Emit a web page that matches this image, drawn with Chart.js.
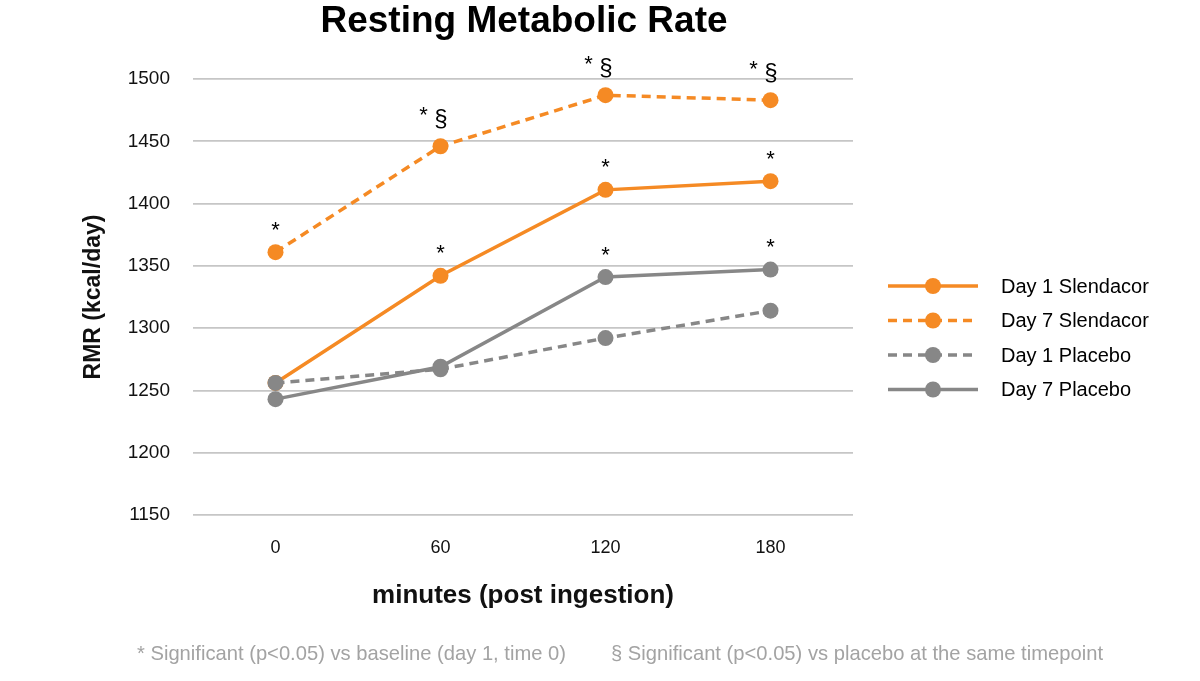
<!DOCTYPE html>
<html>
<head>
<meta charset="utf-8">
<script src="https://cdn.jsdelivr.net/npm/chart.js@4.4.1/dist/chart.umd.min.js"></script>
<style>
  html, body { margin: 0; padding: 0; background: #ffffff; }
  #wrap { width: 1200px; height: 681px; position: relative; }
</style>
</head>
<body>
<div id="wrap"><canvas id="c" width="1200" height="681"></canvas></div>
<script>
// ---- data ----
const categories = ['0', '60', '120', '180'];
const day1Slendacor = [1256, 1342, 1411, 1418];
const day7Slendacor = [1361, 1446, 1487, 1483];
const day1Placebo   = [1256, 1267, 1292, 1314];
const day7Placebo   = [1243, 1269, 1341, 1347];
const day1SlendacorNotes = ['', '*', '*', '*'];
const day7SlendacorNotes = ['*', '* §', '* §', '* §'];
const day1PlaceboNotes   = ['', '', '', ''];
const day7PlaceboNotes   = ['', '', '*', '*'];
const seriesLabels = ['Day 1 Slendacor', 'Day 7 Slendacor', 'Day 1 Placebo', 'Day 7 Placebo'];
const yTicks = [1150, 1200, 1250, 1300, 1350, 1400, 1450, 1500];
const chartTitle = 'Resting Metabolic Rate';
const xTitle = 'minutes (post ingestion)';
const yTitle = 'RMR (kcal/day)';
const footnotes = ['* Significant (p<0.05) vs baseline (day 1, time 0)', '§ Significant (p<0.05) vs placebo at the same timepoint'];

const ORANGE = '#F58A24';
const GRAY = '#878787';
const FONT = "'Liberation Sans', Arial, Helvetica, sans-serif";

function ds(label, data, color, dashed, notes) {
  return {
    label, data, notes,
    borderColor: color, backgroundColor: color,
    pointBackgroundColor: color, pointBorderColor: color,
    pointRadius: 8, pointHoverRadius: 8, pointBorderWidth: 0,
    borderWidth: 3.5, borderDash: dashed ? [9, 6] : [],
    tension: 0, fill: false
  };
}

const datasets = [
  ds(seriesLabels[3], day7Placebo, GRAY, false, day7PlaceboNotes),
  ds(seriesLabels[2], day1Placebo, GRAY, true, day1PlaceboNotes),
  ds(seriesLabels[1], day7Slendacor, ORANGE, true, day7SlendacorNotes),
  ds(seriesLabels[0], day1Slendacor, ORANGE, false, day1SlendacorNotes)
];
const legendOrder = [3, 2, 1, 0];

function fitText(ctx, text, x, y, width) {
  const w = ctx.measureText(text).width;
  ctx.save();
  ctx.translate(x, y);
  ctx.scale(width / w, 1);
  ctx.fillText(text, 0, 0);
  ctx.restore();
}

const extras = {
  id: 'extras',
  afterDraw(chart) {
    const ctx = chart.ctx;
    ctx.save();
    // title
    ctx.fillStyle = '#000';
    ctx.font = 'bold 37px ' + FONT;
    ctx.textAlign = 'center';
    ctx.textBaseline = 'alphabetic';
    ctx.fillText(chartTitle, 524, 32);

    // annotations
    chart.data.datasets.forEach((d, di) => {
      const meta = chart.getDatasetMeta(di);
      d.notes.forEach((n, i) => {
        if (!n) return;
        const p = meta.data[i];
        ctx.fillStyle = '#000';
        ctx.textAlign = 'center';
        ctx.textBaseline = 'alphabetic';
        if (n === '*') {
          ctx.font = '22px ' + FONT;
          ctx.fillText('*', p.x, p.y - 15.5);
        } else {
          ctx.font = '22px ' + FONT;
          ctx.fillText('*', p.x - 17, p.y - 24.5);
          ctx.font = '24px ' + FONT;
          ctx.fillText('§', p.x + 0.5, p.y - 20);
        }
      });
    });

    // legend
    const rowsY = [286, 320.5, 355, 389.5];
    legendOrder.forEach((di, r) => {
      const d = chart.data.datasets[di];
      const y = rowsY[r];
      ctx.strokeStyle = d.borderColor;
      ctx.lineWidth = d.borderWidth;
      ctx.setLineDash(d.borderDash);
      ctx.beginPath();
      ctx.moveTo(888, y);
      ctx.lineTo(978, y);
      ctx.stroke();
      ctx.setLineDash([]);
      ctx.fillStyle = d.pointBackgroundColor;
      ctx.beginPath();
      ctx.arc(933, y, 8, 0, Math.PI * 2);
      ctx.fill();
      ctx.fillStyle = '#000';
      ctx.font = '20px ' + FONT;
      ctx.textAlign = 'left';
      ctx.textBaseline = 'middle';
      ctx.fillText(d.label, 1001, y + 1);
    });

    // footnotes (condensed)
    ctx.fillStyle = '#a3a3a3';
    ctx.font = '21px ' + FONT;
    ctx.textAlign = 'left';
    ctx.textBaseline = 'middle';
    fitText(ctx, footnotes[0], 137, 654, 429);
    fitText(ctx, footnotes[1], 611, 654, 492);
    ctx.restore();
  }
};

new Chart(document.getElementById('c'), {
  type: 'line',
  data: { labels: categories, datasets },
  options: {
    responsive: false,
    animation: false,
    events: [],
    layout: { padding: { left: 80, right: 347, top: 79, bottom: 70 } },
    plugins: { legend: { display: false }, title: { display: false }, tooltip: { enabled: false } },
    scales: {
      x: {
        type: 'category',
        offset: true,
        grid: { display: false, drawTicks: false },
        border: { display: false },
        ticks: { color: '#111', font: { family: FONT, size: 18 }, padding: 22 },
        title: { display: true, text: xTitle, color: '#111', font: { family: FONT, size: 26, weight: 'bold' }, padding: { top: 0, bottom: 0 } },
        afterFit(s) { s.height = 96; }
      },
      y: {
        min: 1150, max: 1500,
        afterBuildTicks(s) { s.ticks = yTicks.map(v => ({ value: v })); },
        grid: { color: '#c6c6c6', lineWidth: 1.8, drawTicks: false },
        border: { display: false },
        ticks: { color: '#111', font: { family: FONT, size: 19 }, padding: 23, callback: v => String(v) },
        title: { display: true, text: yTitle, color: '#111', font: { family: FONT, size: 23, weight: 'bold' }, padding: { top: 0, bottom: 0 } },
        afterFit(s) { s.width = 113; }
      }
    }
  },
  plugins: [extras]
});
</script>
</body>
</html>
